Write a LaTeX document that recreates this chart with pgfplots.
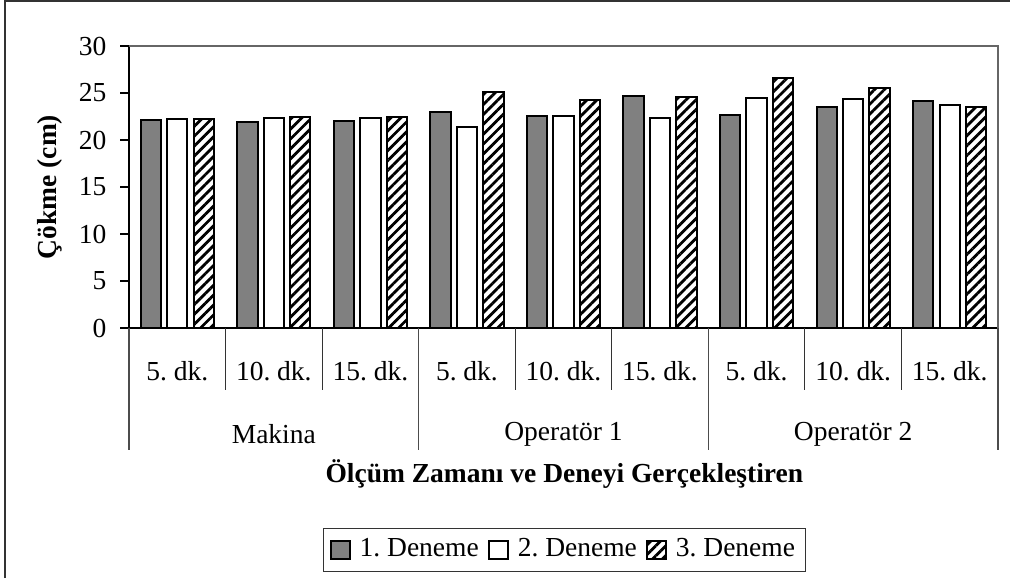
\documentclass[border=0pt]{standalone}
\usepackage{pgfplots}
\pgfplotsset{compat=1.18}
\usepackage{pgfplotstable}
\usetikzlibrary{patterns.meta}
\usepackage{fontspec}
\setmainfont{Liberation Serif}

\pgfplotstableread{
x   a     b     c
0.5 22.1  22.2  22.2
1.5 21.9  22.35 22.5
2.5 22.0  22.35 22.5
3.5 22.95 21.4  25.1
4.5 22.55 22.55 24.25
5.5 24.7  22.35 24.6
6.5 22.7  24.45 26.6
7.5 23.5  24.4  25.5
8.5 24.2  23.7  23.5
}\data

\begin{document}
\frenchspacing
\fontsize{13.75}{16.5}\selectfont
\begin{tikzpicture}
\useasboundingbox (0,0) rectangle (505pt,-289pt);
\draw[line width=1pt, black!80] (2.5pt,-289pt) -- (2.5pt,-0.5pt) -- (505pt,-0.5pt);
\begin{axis}[
  at={(64.5pt,-164pt)}, anchor=south west,
  scale only axis, width=434.5pt, height=141pt,
  xmin=0, xmax=9, ymin=0, ymax=30,
  axis lines*=left,
  axis line style={black, line width=0.8pt},
  clip=false,
  ybar,
  bar width=0.21,
  ytick={0,5,...,30},
  tick align=outside,
  major tick length=4.5pt,
  ytick style={black, line width=0.6pt},
  xtick={0.5,1.5,...,8.5},
  xticklabels={5. dk.,10. dk.,15. dk.,5. dk.,10. dk.,15. dk.,5. dk.,10. dk.,15. dk.},
  xtick style={draw=none},
  xticklabel style={anchor=center, yshift=-17pt},
  yticklabel style={anchor=east, xshift=-2pt},
  /pgf/number format/assume math mode=true,
  ylabel={\textbf{Çökme (cm)}},
  ylabel style={at={(axis description cs:-0.0909,0.5)}, anchor=center},
  xlabel={\textbf{Ölçüm Zamanı ve Deneyi Gerçekleştiren}},
  xlabel style={at={(axis description cs:0.501,-0.5177)}, anchor=center},
  legend columns=3,
  legend image code/.code={\draw[#1] (0pt,-4.7pt) rectangle (9.5pt,4.7pt);},
  legend style={at={(axis description cs:0.501,-0.787)}, anchor=center,
    draw=black!80, line width=0.5pt, inner sep=3pt,
    /tikz/every odd column/.append style={column sep=2.5pt},
    /tikz/every even column/.append style={column sep=2.5pt}},
]
\addplot[bar shift=-0.274, fill=black!50, draw=black, line width=1pt] table[x=x,y=a]{\data};
\addplot[bar shift=0, fill=white, draw=black, line width=1pt] table[x=x,y=b]{\data};
\addplot[bar shift=0.274, draw=black, line width=1pt, pattern={Lines[angle=45,distance=3.5pt,line width=1.4pt]}, pattern color=black] table[x=x,y=c]{\data};
\legend{1. Deneme,2. Deneme,3. Deneme}
\draw[black!60, line width=0.8pt] (rel axis cs:0,1) -- (rel axis cs:1,1) -- (rel axis cs:1,0);
\pgfplotsinvokeforeach{1,2,4,5,7,8}{\draw[black!80, line width=0.5pt] (axis cs:#1,0) -- ++(0,-31pt);}
\pgfplotsinvokeforeach{0,3,6,9}{\draw[black!70, line width=0.6pt] (axis cs:#1,0) -- ++(0,-61pt);}
\node[anchor=center] at ([yshift=-53pt]axis cs:1.5,0) {Makina};
\node[anchor=center] at ([yshift=-53pt]axis cs:4.5,0) {Operatör 1};
\node[anchor=center] at ([yshift=-53pt]axis cs:7.5,0) {Operatör 2};
\end{axis}
\end{tikzpicture}
\end{document}
